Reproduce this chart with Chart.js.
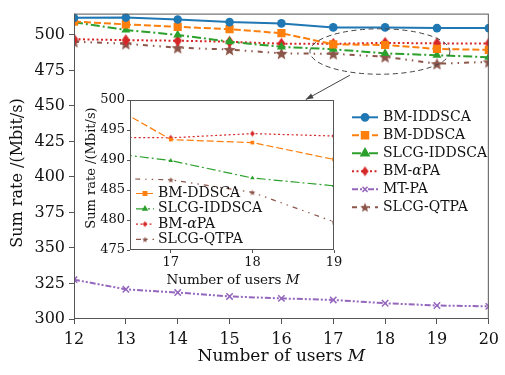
<!DOCTYPE html>
<html><head><meta charset="utf-8">
<script src="https://cdn.jsdelivr.net/npm/chart.js@4.4.1/dist/chart.umd.min.js"></script>
<style>
html,body{margin:0;padding:0;background:#fff;}
#wrap{position:relative;width:505px;height:375px;}
#wrap canvas{position:absolute;left:0;top:0;}
</style></head><body>
<div id="wrap"><canvas id="main" width="505" height="375"></canvas><canvas id="inset" width="505" height="375"></canvas></div>
<script>
// Number of users M
const users = [12, 13, 14, 15, 16, 17, 18, 19, 20];

// Sum rate (Mbit/s) per scheme
const bmIddsca   = [512.0, 512.2, 510.8, 509.0, 508.1, 505.3, 505.3, 504.8, 504.8];
const bmDdsca    = [509.4, 507.4, 505.7, 504.0, 501.2, 493.4, 492.9, 490.1, 489.5];
const slcgIddsca = [509.0, 503.5, 500.0, 495.2, 491.6, 489.9, 487.0, 485.7, 484.3];
const bmAlphaPa  = [497.0, 496.3, 495.9, 495.2, 493.8, 493.7, 494.4, 494.0, 494.0];
const mtPa       = [327.7, 320.9, 318.6, 315.9, 314.5, 313.4, 311.1, 309.5, 308.9];
const slcgQtpa   = [495.2, 493.8, 491.0, 489.7, 487.0, 486.7, 484.6, 479.7, 481.0];

const seriesNames = ['BM-IDDSCA', 'BM-DDSCA', 'SLCG-IDDSCA', 'BM-αPA', 'MT-PA', 'SLCG-QTPA'];
const seriesValues = [bmIddsca, bmDdsca, slcgIddsca, bmAlphaPa, mtPa, slcgQtpa];
const insetSeries = [1, 2, 3, 5];   // schemes repeated in the zoomed view

// tick labels
const xTicksMain = users;
const yTicksMain = [300, 325, 350, 375, 400, 425, 450, 475, 500];
const xTicksInset = [17, 18, 19];
const yTicksInset = [475, 480, 485, 490, 495, 500];

const FONT = 'DejaVu Serif';

function starImg(r, color) {
  const s = Math.ceil(r * 2 + 2);
  const c = document.createElement('canvas');
  c.width = s; c.height = s;
  const g = c.getContext('2d');
  g.fillStyle = color;
  g.beginPath();
  for (let k = 0; k < 10; k++) {
    const rr = k % 2 ? r * 0.45 : r;
    const a = -Math.PI / 2 + k * Math.PI / 5;
    const px = s / 2 + rr * Math.cos(a), py = s / 2 + rr * Math.sin(a) + r * 0.1;
    if (k) g.lineTo(px, py); else g.moveTo(px, py);
  }
  g.closePath(); g.fill();
  return c;
}
function diamondImg(h, w, color) {
  const sw = Math.ceil(w * 2 + 2), sh = Math.ceil(h * 2 + 2);
  const c = document.createElement('canvas');
  c.width = sw; c.height = sh;
  const g = c.getContext('2d');
  g.fillStyle = color;
  g.beginPath();
  g.moveTo(sw / 2, sh / 2 - h); g.lineTo(sw / 2 + w, sh / 2);
  g.lineTo(sw / 2, sh / 2 + h); g.lineTo(sw / 2 - w, sh / 2);
  g.closePath(); g.fill();
  return c;
}

const colors = ['#1f77b4', '#ff7f0e', '#2ca02c', '#d62728', '#9467bd', '#8c564b'];
const dashes = [[], [7, 3], [9, 3, 2, 3], [2, 2.5], [6, 2, 2, 2, 2, 2], [5, 5, 1.5, 5, 1.5, 5]];
const mainMarks = ['circle', 'rect', 'triangle', diamondImg(6, 4.2, colors[3]), 'crossRot', starImg(6.5, colors[5])];
const mainRadius = [4.3, 5.8, 5.2, 5, 4.5, 6];
const legendMarks = ['circle', 'rect', 'triangle', diamondImg(5, 3.5, colors[3]), 'crossRot', starImg(5, colors[5])];
const legendRadius = [3.4, 4.6, 4.2, 4, 3.6, 5];
const insetMarks = ['circle', 'rect', 'triangle', diamondImg(3, 2.3, colors[3]), 'crossRot', starImg(3, colors[5])];
const insetRadius = [2.2, 2.6, 2.6, 2.5, 2.5, 3];

function makeDataset(i, marks, radius, width) {
  return {
    label: seriesNames[i],
    data: users.map((m, k) => ({ x: m, y: seriesValues[i][k] })),
    borderColor: colors[i],
    backgroundColor: colors[i],
    borderWidth: width,
    borderDash: dashes[i],
    pointStyle: marks[i],
    pointRadius: radius[i],
    pointBorderWidth: marks[i] === 'crossRot' ? 1.5 : 0,
    pointBorderColor: colors[i],
    pointBackgroundColor: colors[i],
    tension: 0
  };
}

function richParts(text) {
  return text.split(/(α)/).filter(s => s).map(s => ({ t: s, it: s === 'α' }));
}
function drawRich(ctx, parts, x, y, size, align) {
  const fontOf = p => (p.it ? 'italic ' : '') + size + 'px "' + FONT + '"';
  let total = 0;
  parts.forEach(p => { ctx.font = fontOf(p); total += ctx.measureText(p.t).width; });
  let cx = align === 'center' ? x - total / 2 : x;
  ctx.textAlign = 'left';
  ctx.textBaseline = 'middle';
  parts.forEach(p => { ctx.font = fontOf(p); ctx.fillText(p.t, cx, y); cx += ctx.measureText(p.t).width; });
}
function legendEntry(ctx, ds, style, radius, x0, x1, y, textX, size, lw) {
  ctx.save();
  ctx.strokeStyle = ds.borderColor;
  ctx.lineWidth = lw;
  ctx.setLineDash(ds.borderDash);
  ctx.beginPath(); ctx.moveTo(x0, y); ctx.lineTo(x1, y); ctx.stroke();
  ctx.setLineDash([]);
  ctx.fillStyle = ds.pointBackgroundColor;
  ctx.strokeStyle = ds.pointBorderColor;
  ctx.lineWidth = style === 'crossRot' ? 1.5 : 0;
  Chart.helpers.drawPoint(ctx, { pointStyle: style, radius: radius, rotation: 0, borderWidth: ctx.lineWidth }, (x0 + x1) / 2, y);
  ctx.fillStyle = '#111';
  drawRich(ctx, richParts(ds.label), textX, y, size, 'left');
  ctx.restore();
}
function frame(ctx, a) {
  ctx.save();
  ctx.strokeStyle = '#555';
  ctx.lineWidth = 1;
  ctx.strokeRect(a.left + 0.5, a.top + 0.5, a.right - a.left - 1, a.bottom - a.top - 1);
  ctx.restore();
}

const axisCommon = (size, tickLen, pad) => ({
  type: 'linear',
  border: { display: false },
  grid: { drawOnChartArea: false, drawTicks: true, tickLength: tickLen, color: '#555' },
  ticks: { font: { family: FONT, size: size }, color: '#111', padding: pad, maxRotation: 0, autoSkip: false }
});

const mainDecor = {
  id: 'mainDecor',
  afterDraw(chart) {
    const ctx = chart.ctx, a = chart.chartArea;
    const xs = chart.scales.x, ys = chart.scales.y;
    frame(ctx, a);
    ctx.save();
    ctx.fillStyle = '#111';
    drawRich(ctx, [{ t: 'Number of users ' }, { t: 'M', it: true }], (a.left + a.right) / 2, 357, 17, 'center');
    ctx.translate(18, 173);
    ctx.rotate(-Math.PI / 2);
    drawRich(ctx, [{ t: 'Sum rate /(Mbit/s)' }], 0, 0, 16, 'center');
    ctx.restore();
    // legend
    chart.data.datasets.forEach((ds, i) =>
      legendEntry(ctx, ds, legendMarks[i], legendRadius[i], 352, 378, 117.3 + i * 18, 383, 14, 2));
    // dashed ellipse around the zoomed region, arrow towards the inset
    const cx = xs.getPixelForValue(17.9), cy = ys.getPixelForValue(488.3);
    const rx = xs.getPixelForValue(19.25) - cx, ry = ys.getPixelForValue(472.3) - cy;
    ctx.save();
    ctx.strokeStyle = '#444'; ctx.lineWidth = 1; ctx.setLineDash([5, 3.5]);
    ctx.beginPath(); ctx.ellipse(cx, cy, rx, ry, 0, 0, Math.PI * 2); ctx.stroke();
    ctx.setLineDash([]);
    const ax0 = xs.getPixelForValue(17.32), ay0 = ys.getPixelForValue(471.6);
    const ax1 = xs.getPixelForValue(16.47), ay1 = ys.getPixelForValue(454.5);
    ctx.beginPath(); ctx.moveTo(ax0, ay0); ctx.lineTo(ax1, ay1); ctx.stroke();
    const ang = Math.atan2(ay1 - ay0, ax1 - ax0);
    ctx.fillStyle = '#444';
    ctx.beginPath();
    ctx.moveTo(ax1, ay1);
    ctx.lineTo(ax1 - 8 * Math.cos(ang - 0.35), ay1 - 8 * Math.sin(ang - 0.35));
    ctx.lineTo(ax1 - 8 * Math.cos(ang + 0.35), ay1 - 8 * Math.sin(ang + 0.35));
    ctx.closePath(); ctx.fill();
    ctx.restore();
  }
};

const mainX = axisCommon(16, 5, 6);
Object.assign(mainX, { min: 12, max: 20,
  afterBuildTicks: s => { s.ticks = xTicksMain.map(v => ({ value: v })); },
  afterFit: s => { s.height = 56; } });
const mainY = axisCommon(16, 5, 4);
Object.assign(mainY, { min: 300, max: 515,
  afterBuildTicks: s => { s.ticks = yTicksMain.map(v => ({ value: v })); },
  afterFit: s => { s.width = 74; } });

new Chart(document.getElementById('main'), {
  type: 'line',
  data: { datasets: seriesNames.map((n, i) => makeDataset(i, mainMarks, mainRadius, 2)) },
  options: {
    responsive: false, animation: false, devicePixelRatio: 1,
    layout: { padding: { left: 0, top: 7, right: 11, bottom: 0 } },
    plugins: { legend: { display: false }, tooltip: { enabled: false } },
    scales: { x: mainX, y: mainY }
  },
  plugins: [mainDecor]
});

const insetDecor = {
  id: 'insetDecor',
  afterDraw(chart) {
    const ctx = chart.ctx, a = chart.chartArea;
    frame(ctx, a);
    ctx.save();
    ctx.fillStyle = '#111';
    drawRich(ctx, [{ t: 'Number of users ' }, { t: 'M', it: true }], 233, 280, 13.5, 'center');
    ctx.translate(92, 168);
    ctx.rotate(-Math.PI / 2);
    drawRich(ctx, [{ t: 'Sum rate /(Mbit/s)' }], 0, 0, 13, 'center');
    ctx.restore();
    chart.data.datasets.forEach((ds, i) =>
      legendEntry(ctx, ds, ds.pointStyle, ds.pointRadius, 136, 154, 193.5 + i * 15.3, 158, 14, 1.2));
  }
};

const insetX = axisCommon(13, 3, 2);
Object.assign(insetX, { min: 16.5, max: 19,
  afterBuildTicks: s => { s.ticks = xTicksInset.map(v => ({ value: v })); },
  afterFit: s => { s.height = 125; } });
const insetY = axisCommon(13, 3, 2);
Object.assign(insetY, { min: 475, max: 500,
  afterBuildTicks: s => { s.ticks = yTicksInset.map(v => ({ value: v })); },
  afterFit: s => { s.width = 130; } });

new Chart(document.getElementById('inset'), {
  type: 'line',
  data: { datasets: insetSeries.map(i => makeDataset(i, insetMarks, insetRadius, 1.2)) },
  options: {
    responsive: false, animation: false, devicePixelRatio: 1,
    layout: { padding: { left: 0, top: 100, right: 171, bottom: 0 } },
    plugins: { legend: { display: false }, tooltip: { enabled: false } },
    scales: { x: insetX, y: insetY }
  },
  plugins: [insetDecor]
});
</script>
</body></html>
